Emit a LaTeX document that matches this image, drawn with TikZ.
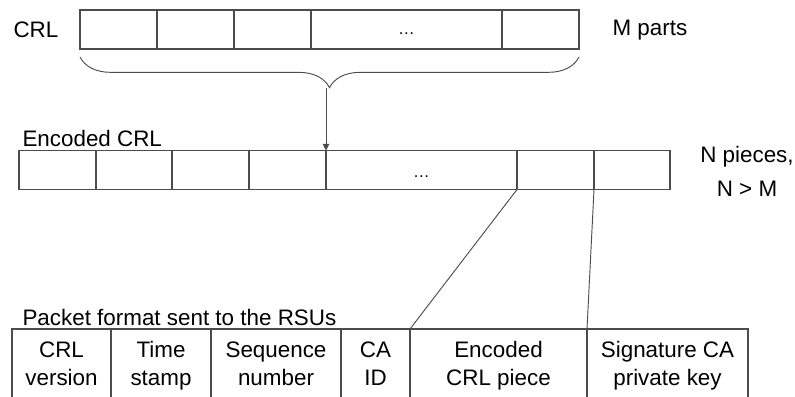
\documentclass[tikz,border=0pt]{standalone}
\usepackage{fontspec}
\setmainfont{Liberation Sans}
\usetikzlibrary{arrows.meta, decorations.pathreplacing}

\begin{document}
\begin{tikzpicture}[
    x=0.75pt, y=-0.75pt,
    line width=0.8pt,
    font=\fontsize{16.8}{21}\selectfont,
    cell/.style={draw=black!70, rectangle, minimum width=#1*0.75pt, minimum height=39*0.75pt, inner sep=0pt, outer sep=0pt},
    packet/.style={draw=black!70, rectangle, minimum width=#1*0.75pt, minimum height=74*0.75pt, inner sep=0pt, outer sep=0pt, align=center, text height=33pt, text depth=4pt},
    dots/.style={font=\fontsize{12.5}{14}\selectfont, text depth=0pt},
    label_style/.style={anchor=base west, inner sep=0pt},
    link/.style={draw=black!70, line width=0.7pt}
]

    \clip (0,0) rectangle (795,396);

    % ================= CRL (M PARTS) =================
    \node[label_style] (crl) at (13,37) {CRL};

    \node[cell=77] (C1) at (118.5,29.5) {};
    \node[cell=77] (C2) at (195.5,29.5) {};
    \node[cell=77] (C3) at (272.5,29.5) {};
    \node[cell=191, dots, text height=6.8pt] (C4) at (406.5,29.5) {…};
    \node[cell=77] (C5) at (540.5,29.5) {};

    \node[label_style] (mparts) at (612,36) {M parts};

    % ================= ENCODED CRL (N PIECES) =================
    \node[label_style] (enc) at (22,146.5) {Encoded CRL};

    \node[cell=77] (E1) at (57.5,170) {};
    \node[cell=76] (E2) at (134,170) {};
    \node[cell=77] (E3) at (210.5,170) {};
    \node[cell=77] (E4) at (287.5,170) {};
    \node[cell=191, dots, text height=10.5pt] (E5) at (421.5,170) {…};
    \node[cell=77] (E6) at (555.5,170) {};
    \node[cell=76] (E7) at (632,170) {};

    \node[align=center, inner sep=0pt, font=\fontsize{16.8}{25.5}\selectfont] (npieces) at (747,171) {N pieces,\\N > M};

    % Brace and arrow down to the encoded CRL
    \draw[link, decorate, decoration={brace, mirror, amplitude=23pt}]
        ([yshift=-6pt]C1.south west) -- ([yshift=-6pt]C5.south east);
    \coordinate (tip) at (326,88);
    \draw[link, -{Triangle[length=5pt, width=5pt]}] (tip) -- (E5.north west);

    % ================= PACKET FORMAT =================
    \node[label_style] (pkt) at (22,325) {Packet format sent to the RSUs};

    \node[packet=99]  (P1) at (61.5,366)  {CRL\\version};
    \node[packet=100] (P2) at (161,366)   {Time\\stamp};
    \node[packet=130] (P3) at (276,366)   {Sequence\\number};
    \node[packet=69]  (P4) at (375.5,366) {CA\\ID};
    \node[packet=177] (P5) at (498.5,366) {Encoded\\CRL piece};
    \node[packet=161] (P6) at (667.5,366) {Signature CA\\private key};

    % Pieces taken into the packet
    \draw[link] (E6.south west) -- (P5.north west);
    \draw[link] (E7.south west) -- (P6.north west);

\end{tikzpicture}
\end{document}
